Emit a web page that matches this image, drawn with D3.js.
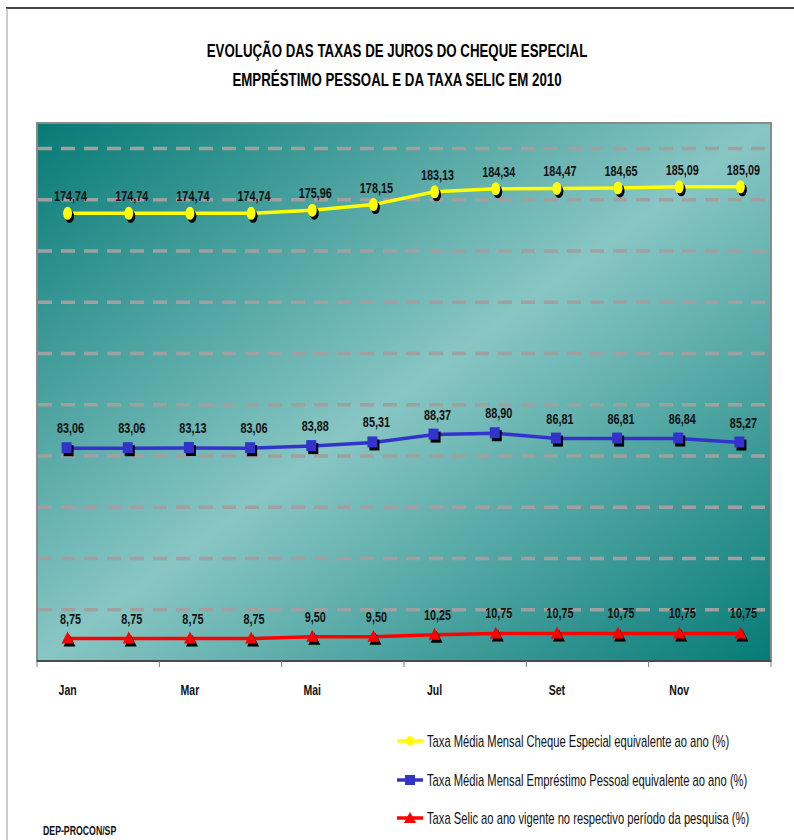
<!DOCTYPE html>
<html>
<head>
<meta charset="utf-8">
<script src="https://cdn.jsdelivr.net/npm/d3@7"></script>
<style>
  body { margin: 0; background: #fff; }
  svg text { font-family: "Liberation Sans", Arial, sans-serif; }
</style>
</head>
<body>
<svg id="chart" width="794" height="840"></svg>
<script>
"use strict";

// month categories and the labels shown under the axis
const months = ["Jan", "Fev", "Mar", "Abr", "Mai", "Jun", "Jul", "Ago", "Set", "Out", "Nov", "Dez"];
const shownMonths = ["Jan", "Mar", "Mai", "Jul", "Set", "Nov"];

// series values (% ao ano)
const chequeEspecial = [174.74, 174.74, 174.74, 174.74, 175.96, 178.15, 183.13, 184.34, 184.47, 184.65, 185.09, 185.09];
const emprestimoPessoal = [83.06, 83.06, 83.13, 83.06, 83.88, 85.31, 88.37, 88.90, 86.81, 86.81, 86.84, 85.27];
const selic = [8.75, 8.75, 8.75, 8.75, 9.50, 9.50, 10.25, 10.75, 10.75, 10.75, 10.75, 10.75];

const seriesNames = [
  "Taxa Média Mensal Cheque Especial equivalente ao ano (%)",
  "Taxa Média Mensal Empréstimo Pessoal equivalente ao ano (%)",
  "Taxa Selic ao ano vigente no respectivo período da pesquisa (%)"
];

// y axis: 0..210, gridlines every 20
const yMax = 210;
const gridValues = [20, 40, 60, 80, 100, 120, 140, 160, 180, 200];

const plot = { left: 37, top: 123, right: 771, bottom: 661 };
const NARROW = 0.70; // squeeze Liberation Sans to look like the condensed font

const series = [
  { name: seriesNames[0], values: chequeEspecial, color: "#ffff00", shape: "circle", labelDy: -12 },
  { name: seriesNames[1], values: emprestimoPessoal, color: "#3333cc", shape: "square", labelDy: -15 },
  { name: seriesNames[2], values: selic, color: "#ff0000", shape: "triangle", labelDy: -15 }
];

const svg = d3.select("#chart");

// text helper: places a narrowed text at (x, y)
const narrowText = function (parent, x, y, str) {
  return parent.append("text")
    .attr("transform", `translate(${x},${y}) scale(${NARROW},1)`)
    .attr("fill", "#111")
    .text(str);
};

// page frame
svg.append("line").attr("x1", 6).attr("x2", 794).attr("y1", 8).attr("y2", 8)
  .attr("stroke", "#000").attr("stroke-width", 1.5);
svg.append("line").attr("x1", 7).attr("x2", 7).attr("y1", 8).attr("y2", 840)
  .attr("stroke", "#999").attr("stroke-width", 1);

// title
narrowText(svg, 397, 57, "EVOLUÇÃO DAS TAXAS DE JUROS DO CHEQUE ESPECIAL")
  .attr("text-anchor", "middle").attr("font-weight", "bold").attr("font-size", 19).attr("fill", "#000");
narrowText(svg, 397, 86, "EMPRÉSTIMO PESSOAL E DA TAXA SELIC EM 2010")
  .attr("text-anchor", "middle").attr("font-weight", "bold").attr("font-size", 19).attr("fill", "#000");

// scales
const x = d3.scaleBand().domain(months).range([plot.left, plot.right]);
const y = d3.scaleLinear().domain([0, yMax]).range([plot.bottom, plot.top]);
const cx = m => x(m) + x.bandwidth() / 2;

// background gradient
const defs = svg.append("defs");
const grad = defs.append("linearGradient").attr("id", "bg")
  .attr("x1", 0).attr("y1", 0).attr("x2", 1).attr("y2", 1);
grad.append("stop").attr("offset", "0%").attr("stop-color", "#077a76");
grad.append("stop").attr("offset", "50%").attr("stop-color", "#88c6c4");
grad.append("stop").attr("offset", "100%").attr("stop-color", "#067b77");

svg.append("rect")
  .attr("x", plot.left).attr("y", plot.top)
  .attr("width", plot.right - plot.left).attr("height", plot.bottom - plot.top)
  .attr("fill", "url(#bg)")
  .attr("stroke", "#8a8a8a").attr("stroke-width", 2);

// gridlines
svg.append("g").selectAll("line").data(gridValues).join("line")
  .attr("x1", plot.left + 1).attr("x2", plot.right - 1)
  .attr("y1", d => y(d)).attr("y2", d => y(d))
  .attr("stroke", "#a0a0a0").attr("stroke-width", 3.5)
  .attr("stroke-dasharray", "14,9");

// bottom axis: ticks every other month boundary
const axisG = svg.append("g").attr("transform", `translate(0,${plot.bottom})`);
axisG.append("line").attr("x1", plot.left).attr("x2", plot.right)
  .attr("stroke", "#333").attr("stroke-width", 1.5);
const tickPos = months.filter((m, i) => i % 2 === 0).map(m => x(m)).concat([plot.right]);
axisG.selectAll("line.tick").data(tickPos).join("line").attr("class", "tick")
  .attr("x1", d => d).attr("x2", d => d).attr("y1", 0).attr("y2", 6)
  .attr("stroke", "#777").attr("stroke-width", 1);
for (const m of shownMonths) {
  narrowText(axisG, cx(m), 34, m)
    .attr("text-anchor", "middle").attr("font-size", 15).attr("font-weight", "bold");
}

// marker drawing helper
const drawMarker = function (g, shape, color, px, py) {
  if (shape === "circle") {
    g.append("ellipse").attr("cx", px + 2).attr("cy", py + 3).attr("rx", 4.5).attr("ry", 6.5).attr("fill", "#000");
    g.append("ellipse").attr("cx", px).attr("cy", py).attr("rx", 4.5).attr("ry", 6.5).attr("fill", color);
  } else if (shape === "square") {
    g.append("rect").attr("x", px - 4).attr("y", py - 3).attr("width", 10).attr("height", 11).attr("fill", "#000");
    g.append("rect").attr("x", px - 6).attr("y", py - 6).attr("width", 10).attr("height", 11).attr("fill", color);
  } else {
    const tri = (ox, oy) => `M${ox},${oy - 7} L${ox + 6},${oy + 5} L${ox - 6},${oy + 5} Z`;
    g.append("path").attr("d", tri(px + 2, py + 3)).attr("fill", "#000");
    g.append("path").attr("d", tri(px, py)).attr("fill", color);
  }
};

const line = d3.line().x(d => cx(d.m)).y(d => y(d.v));

for (const s of series) {
  const pts = s.values.map((v, i) => ({ m: months[i], v: v }));
  const g = svg.append("g");
  g.append("path").datum(pts).attr("d", line)
    .attr("fill", "none").attr("stroke", s.color).attr("stroke-width", 3.5);
  for (const p of pts) drawMarker(g, s.shape, s.color, cx(p.m), y(p.v));
  for (const p of pts) {
    narrowText(g, cx(p.m) + 3, y(p.v) + s.labelDy, d3.format(".2f")(p.v).replace(".", ","))
      .attr("text-anchor", "middle").attr("font-size", 15.5).attr("font-weight", "bold");
  }
}

// legend
const legendY = [741, 780, 818];
series.forEach((s, i) => {
  const g = svg.append("g").attr("transform", `translate(0,${legendY[i]})`);
  g.append("line").attr("x1", 397).attr("x2", 423).attr("y1", 0).attr("y2", 0)
    .attr("stroke", s.color).attr("stroke-width", 3.5);
  if (s.shape === "circle") {
    g.append("ellipse").attr("cx", 410).attr("cy", 0).attr("rx", 4).attr("ry", 5).attr("fill", s.color);
  } else if (s.shape === "square") {
    g.append("rect").attr("x", 405).attr("y", -5).attr("width", 10).attr("height", 10).attr("fill", s.color);
  } else {
    g.append("path").attr("d", "M410,-6 L416,5 L404,5 Z").attr("fill", s.color);
  }
  narrowText(g, 427, 6, s.name).attr("font-size", 16);
});

// footer
narrowText(svg, 43, 835, "DEP-PROCON/SP").attr("font-size", 12.5).attr("font-weight", "bold");
</script>
</body>
</html>
